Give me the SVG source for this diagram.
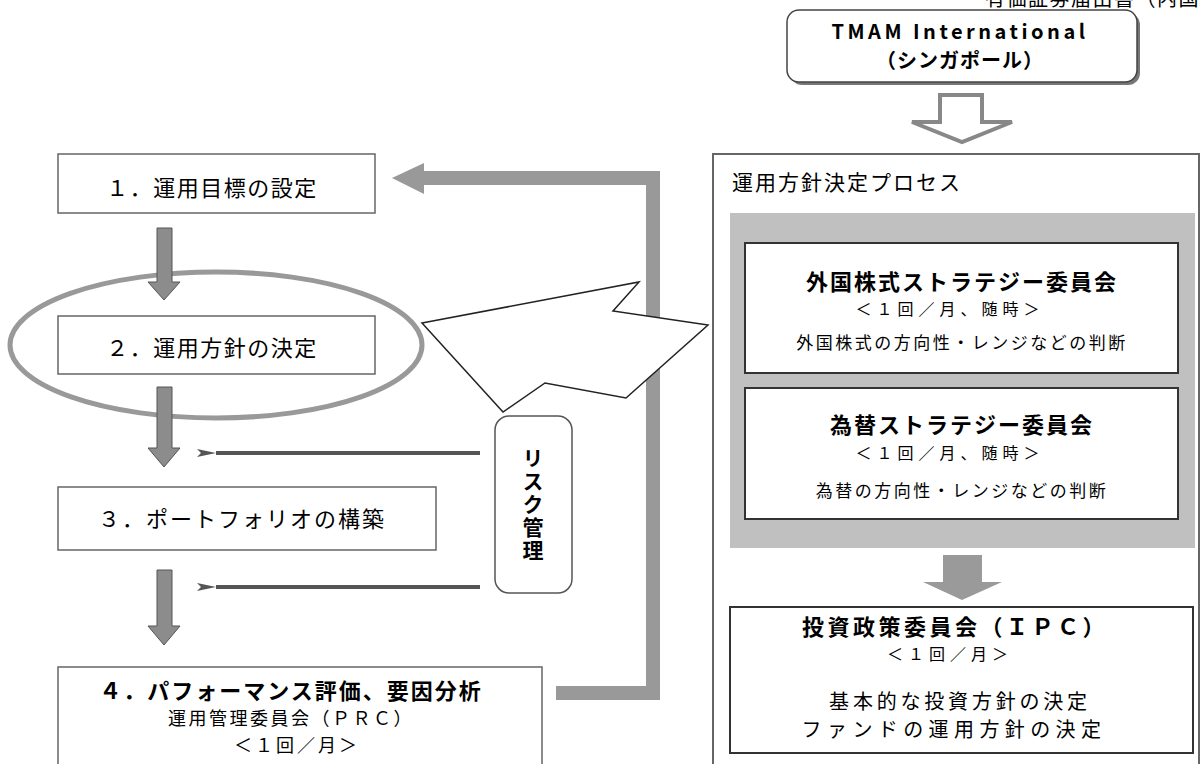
<svg xmlns="http://www.w3.org/2000/svg" width="1200" height="764" viewBox="0 0 1200 764">
<style>
text{font-family:'Noto Sans CJK JP','Noto Sans',sans-serif;fill:#000}
.b{font-weight:bold}
.box{fill:#fff;stroke:#666;stroke-width:1.5}
.ibox{fill:#fff;stroke:#333;stroke-width:2}
.varrow{fill:#8c8c8c;stroke:#555;stroke-width:1}
.thin{stroke:#555;stroke-width:4;fill:none}
.mid{text-anchor:middle}
</style>
<defs>
<marker id="ah" markerWidth="20" markerHeight="12" refX="1" refY="6" orient="auto" markerUnits="userSpaceOnUse">
<path d="M20,2 L1,6 L20,10 L16,6 Z" fill="#555"/>
</marker>
</defs>
<rect width="1200" height="764" fill="#fff"/>
<text x="985" y="6" font-size="20" letter-spacing="1.5">有価証券届出書（内国</text>

<g id="tmam">
<rect x="790" y="13" width="350" height="72" rx="12" fill="#777"/>
<rect x="787" y="10" width="350" height="72" rx="12" fill="#fff" stroke="#444" stroke-width="1.5"/>
<text x="960" y="39" font-size="20" class="b mid" letter-spacing="3.5">TMAM International</text>
<text x="960" y="68" font-size="20" class="b mid" letter-spacing="1">（シンガポール）</text>
</g>

<g id="step1">
<rect x="58" y="154" width="317" height="59" class="box"/>
<text x="212" y="196" font-size="22" class="mid" letter-spacing="1.5">１．運用目標の設定</text>
</g>

<g id="step2">
<rect x="58" y="316" width="317" height="58" class="box"/>
<text x="212" y="356" font-size="22" class="mid" letter-spacing="1.5">２．運用方針の決定</text>
</g>
<ellipse id="highlight" cx="216" cy="345" rx="206" ry="73" fill="none" stroke="#999" stroke-width="5"/>

<g id="step3">
<rect x="58" y="487" width="378" height="63" class="box"/>
<text x="242" y="527" font-size="22" class="mid" letter-spacing="2">３．ポートフォリオの構築</text>
</g>

<g id="step4">
<rect x="58" y="667" width="484" height="110" class="box"/>
<text x="291" y="699" font-size="22" class="b mid" letter-spacing="2">４．パフォーマンス評価、要因分析</text>
<text x="291" y="725" font-size="18" class="mid" letter-spacing="2.5">運用管理委員会（ＰＲＣ）</text>
<text x="297" y="752" font-size="18" class="mid" letter-spacing="3">＜１回／月＞</text>
</g>

<g id="risk">
<rect x="495" y="416" width="77" height="177" rx="14" fill="#fff" stroke="#555" stroke-width="1.5"/>
<text x="533" y="505" font-size="21" class="b mid" letter-spacing="2" style="writing-mode:vertical-rl">リスク管理</text>
</g>

<g id="process">
<rect x="713" y="154" width="486" height="620" fill="#fff" stroke="#666" stroke-width="2"/>
<text x="732" y="190" font-size="21" letter-spacing="2">運用方針決定プロセス</text>
<rect x="730" y="213" width="465" height="335" fill="#c0c0c0"/>
</g>

<g id="equity">
<rect x="745" y="243" width="433" height="130" class="ibox"/>
<text x="962" y="290" font-size="22" class="b mid" letter-spacing="2">外国株式ストラテジー委員会</text>
<text x="950" y="315" font-size="16" class="mid" letter-spacing="5">＜１回／月、随時＞</text>
<text x="962" y="349" font-size="17" class="mid" letter-spacing="2.5">外国株式の方向性・レンジなどの判断</text>
</g>

<g id="fx">
<rect x="745" y="388" width="433" height="131" class="ibox"/>
<text x="962" y="433" font-size="22" class="b mid" letter-spacing="2">為替ストラテジー委員会</text>
<text x="950" y="459" font-size="16" class="mid" letter-spacing="5">＜１回／月、随時＞</text>
<text x="962" y="497" font-size="17" class="mid" letter-spacing="2.5">為替の方向性・レンジなどの判断</text>
</g>

<g id="ipc">
<rect x="730" y="607" width="463" height="146" class="ibox"/>
<text x="955" y="635" font-size="22" class="b mid" letter-spacing="3.5">投資政策委員会（ＩＰＣ）</text>
<text x="950" y="660" font-size="16" class="mid" letter-spacing="5">＜１回／月＞</text>
<text x="960" y="709" font-size="20" class="mid" letter-spacing="3.8">基本的な投資方針の決定</text>
<text x="954" y="737" font-size="20" class="mid" letter-spacing="5.4">ファンドの運用方針の決定</text>
</g>

<g id="connectors">
<polygon points="940,95 982,95 982,122 1012,122 962,142 912,122 940,122" fill="#fff" stroke="#888" stroke-width="4" stroke-linejoin="miter"/>
<polygon points="943,555 982,555 982,582 1002,582 962,600 923,582 943,582" fill="#9a9a9a"/>
<polygon points="157,228 172,228 172,282 180,282 164,300 148,282 157,282" class="varrow"/>
<polygon points="157,387 172,387 172,448 180,448 164,467 148,448 157,448" class="varrow"/>
<polygon points="157,570 172,570 172,626 180,626 164,645 148,626 157,626" class="varrow"/>
<path d="M556,693 L653,693 L653,178 L418,178" fill="none" stroke="#999" stroke-width="14"/>
<polygon points="392,178 424,163 424,194" fill="#999"/>
<line x1="480" y1="453" x2="216" y2="453" class="thin" marker-end="url(#ah)"/>
<line x1="480" y1="587" x2="216" y2="587" class="thin" marker-end="url(#ah)"/>
<polygon points="422,323 639,282 613,311 708,325 626,398 545,383 503,412" fill="#fff" stroke="#222" stroke-width="1.5" stroke-linejoin="miter"/>
</g>
</svg>
